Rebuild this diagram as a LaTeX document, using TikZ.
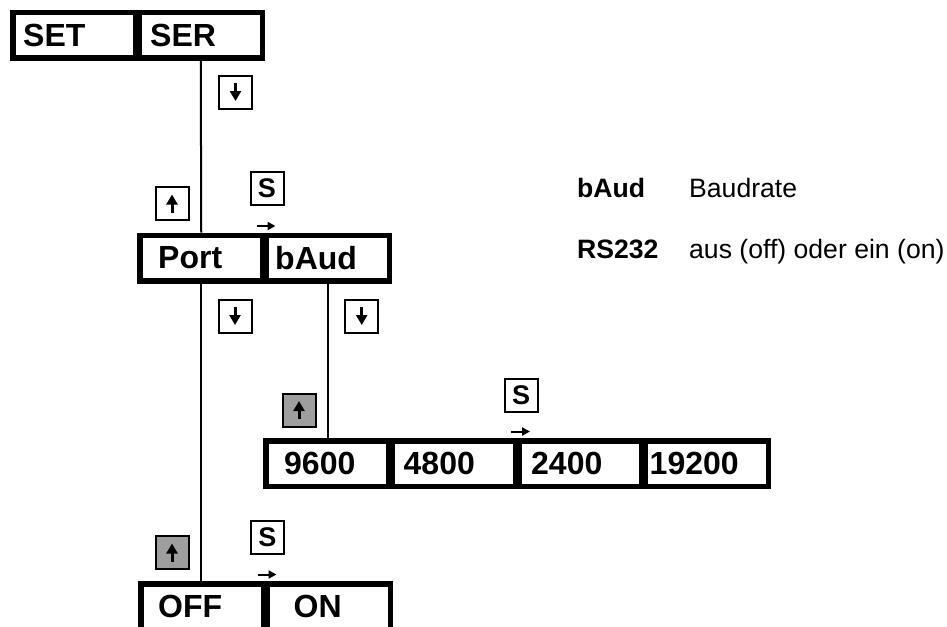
\documentclass[tikz,border=0pt]{standalone}
\usepackage{fontspec}
\setmainfont{Liberation Sans}
\usetikzlibrary{arrows.meta}
\tikzset{
  cell/.style={draw, line width=5.5pt, minimum width=123pt, minimum height=45.5pt, inner sep=0pt},
  celltxt/.style={anchor=west, inner sep=0pt, font=\fontsize{32}{32}\selectfont\bfseries},
  key/.style={draw, line width=2pt, minimum size=33pt, inner sep=0pt, font=\fontsize{27}{27}\selectfont\bfseries},
  graykey/.style={key, fill=black!38},
  keyarrow/.style={line width=3pt, -{Triangle[width=11pt,length=10pt]}},
  wire/.style={line width=2pt},
  sarrow/.style={line width=2pt, -{Triangle[width=8pt,length=8pt]}},
  legend/.style={anchor=base west, inner sep=0pt, font=\fontsize{26.6}{26.6}\selectfont},
}

\begin{document}
\begin{tikzpicture}[x=1pt,y=-1pt]
\useasboundingbox (0,0) rectangle (947,626);
\clip (0,0) rectangle (947,626);
%\draw[help lines,step=50] (0,0) grid (947,626);
% menu cells
\node[cell] (set) at (74.25,35.5) {};
\node[cell] (ser) at (200.75,35.5) {};
\node[cell] (port) at (201.25,258) {};
\node[cell] (baud) at (327.75,258) {};
\node[cell] (b9600) at (327.25,463.5) {};
\node[cell] (b4800) at (453.75,463.5) {};
\node[cell] (b2400) at (580.25,463.5) {};
\node[cell] (b19200) at (706.75,463.5) {};
\node[cell] (off) at (202.25,606.5) {};
\node[cell] (on) at (328.75,606.5) {};
\node[celltxt] (tset) at ([xshift=13pt]set.west) {SET};
\node[celltxt] (tser) at ([xshift=13.5pt]ser.west) {SER};
\node[celltxt] (tport) at ([xshift=21pt]port.west) {Port};
\node[celltxt] (tbaud) at ([xshift=11.5pt]baud.west) {bAud};
\node[celltxt] (t9600) at ([xshift=21pt]b9600.west) {9600};
\node[celltxt] (t4800) at ([xshift=14pt]b4800.west) {4800};
\node[celltxt] (t2400) at ([xshift=15pt]b2400.west) {2400};
\node[celltxt] (t19200) at ([xshift=7pt]b19200.west) {19200};
\node[celltxt] (toff) at ([xshift=20pt]off.west) {OFF};
\node[celltxt] (ton) at ([xshift=29pt]on.west) {ON};
% connections
\draw[wire] (ser.south) -- (port.north);
\draw[wire] (port.south) -- (port.south |- off.north);
\draw[wire] (baud.south) -- (baud.south |- b9600.north);
% keys
\node[key] (kdown1) at (235.5,92) {};
\node[key] (kup1) at (172,203.5) {};
\node[key] (ks1) at (267,188) {S};
\node[key] (kdown2) at (235,316) {};
\node[key] (kdown3) at (361.7,316) {};
\node[graykey] (kup2) at (299,410) {};
\node[key] (ks2) at (521,395.5) {S};
\node[graykey] (kup3) at (172,552.5) {};
\node[key] (ks3) at (267.5,537.5) {S};
\foreach \k in {kdown1,kdown2,kdown3}
  \draw[keyarrow] ([yshift=9pt]\k.center) -- ([yshift=-9pt]\k.center);
\foreach \k in {kup1,kup2,kup3}
  \draw[keyarrow] ([yshift=-9pt]\k.center) -- ([yshift=9pt]\k.center);
\draw[sarrow] ([xshift=-7pt,yshift=6.5pt]baud.north west) -- ++(19,0);
\draw[sarrow] ([xshift=-5pt,yshift=6.5pt]b2400.north west) -- ++(19,0);
\draw[sarrow] ([xshift=-7pt,yshift=6.5pt]on.north west) -- ++(19,0);
% legend
\node[legend,font=\fontsize{26.6}{26.6}\selectfont\bfseries] (lbaud) at (577,197.3) {bAud};
\node[legend] (dbaud) at (689,197.3) {Baudrate};
\node[legend,font=\fontsize{26.6}{26.6}\selectfont\bfseries] (lrs) at (577,258.3) {RS232};
\node[legend] (drs) at (689,258.3) {aus (off) oder ein (on)};
\end{tikzpicture}
\end{document}
